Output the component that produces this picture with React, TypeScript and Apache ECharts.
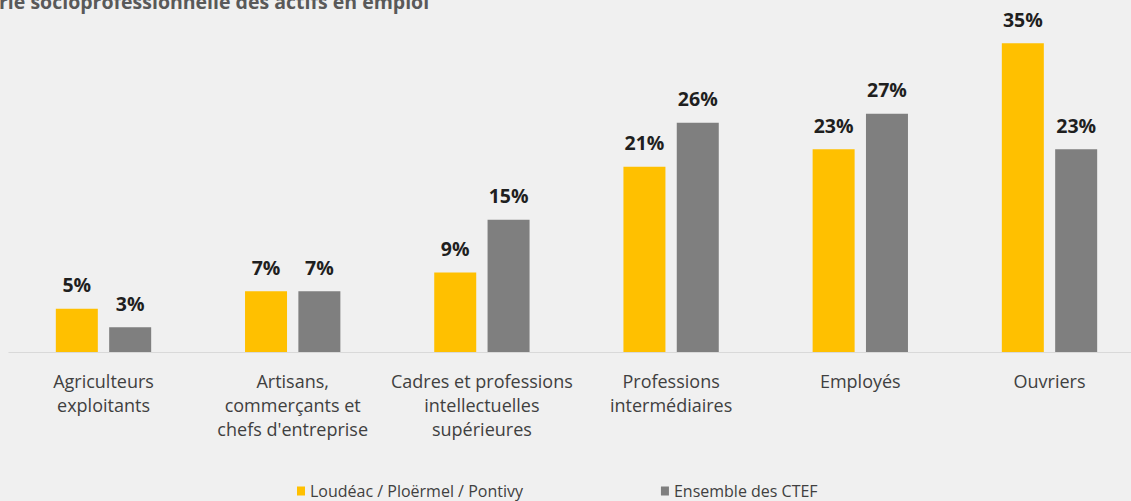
import React, { useEffect, useRef } from "react";
import * as echarts from "echarts";

const categories = [
  "Agriculteurs\nexploitants",
  "Artisans,\ncommerçants et\nchefs d'entreprise",
  "Cadres et professions\nintellectuelles\nsupérieures",
  "Professions\nintermédiaires",
  "Employés",
  "Ouvriers",
];
const seriesNames = ["Loudéac / Ploërmel / Pontivy", "Ensemble des CTEF"];
const localValues = [4.9, 6.9, 9, 21, 23, 35];
const ctefValues = [2.8, 6.9, 15, 26, 27, 23];
const titleText = "rie socioprofessionnelle des actifs en emploi";

export default function App() {
  const ref = useRef<HTMLDivElement>(null);
  useEffect(() => {
    if (!ref.current) return;
    const chart = echarts.init(ref.current, undefined, { renderer: "svg" });
    const label = {
      show: true,
      position: "top",
      distance: 14,
      fontFamily: "Open Sans",
      fontWeight: "bold",
      fontSize: 19.5,
      color: "#1f1f1f",
      formatter: (p: any) => Math.round(p.value) + "%",
    };
    chart.setOption({
      animation: false,
      backgroundColor: "#f0f0f0",
      graphic: [
        {
          type: "text",
          left: -1,
          top: -8.5,
          style: {
            text: titleText,
            fontFamily: "Open Sans",
            fontWeight: "bold",
            fontSize: 19.5,
            fill: "#595959",
          },
        },
      ],
      legend: {
        left: 297,
        top: 483,
        padding: 0,
        itemWidth: 8,
        itemHeight: 9,
        itemGap: 138,
        icon: "rect",
        textStyle: { fontFamily: "Open Sans", fontSize: 16, lineHeight: 16, color: "#404040" },
        data: seriesNames,
      },
      grid: { left: 8.9, right: 0.9, top: 43.3, bottom: 149 },
      xAxis: {
        type: "category",
        data: categories,
        axisLine: { lineStyle: { color: "#d9d9d9", width: 1 } },
        axisTick: { show: false },
        axisLabel: {
          interval: 0,
          margin: 17,
          fontFamily: "Open Sans",
          fontSize: 18,
          lineHeight: 24,
          color: "#404040",
        },
      },
      yAxis: {
        type: "value",
        min: 0,
        max: 35,
        show: false,
        splitLine: { show: false },
      },
      series: [
        {
          name: seriesNames[0],
          type: "bar",
          data: localValues,
          barWidth: 42,
          barGap: "27%",
          itemStyle: { color: "#ffc000" },
          label,
        },
        {
          name: seriesNames[1],
          type: "bar",
          data: ctefValues,
          barWidth: 42,
          itemStyle: { color: "#7f7f7f" },
          label,
        },
      ],
    });
    return () => chart.dispose();
  }, []);
  return (
    <div
      ref={ref}
      style={{ position: "fixed", left: 0, top: 0, width: 1145, height: 501 }}
    />
  );
}
